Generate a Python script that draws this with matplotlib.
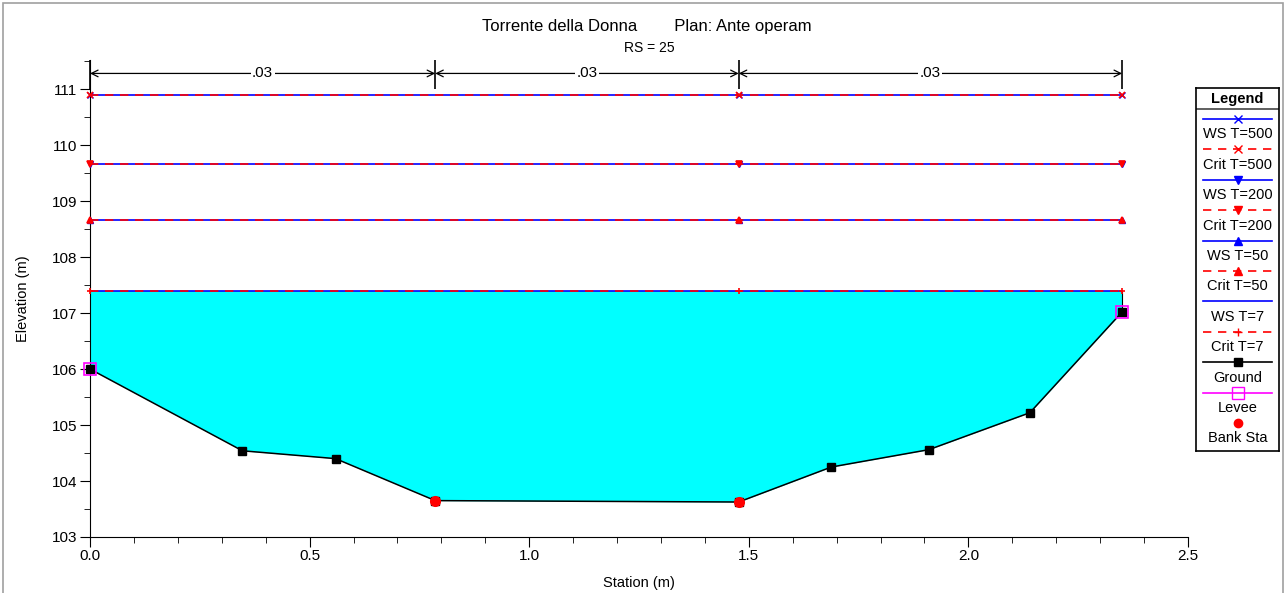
import numpy as np
import matplotlib
matplotlib.use('Agg')
import matplotlib.pyplot as plt
from matplotlib.patches import Rectangle
from matplotlib.ticker import MultipleLocator, FormatStrFormatter

plt.rcParams['font.family'] = ['Liberation Sans', 'DejaVu Sans']

# ground profile
ground_sta  = [0.0, 0.347, 0.559, 0.786, 1.477, 1.688, 1.910, 2.140, 2.350]
ground_elev = [106.0, 104.54, 104.40, 103.65, 103.625, 104.25, 104.56, 105.22, 107.02]
bank_sta    = [0.786, 1.477]
bank_elev   = [103.65, 103.625]
levee_sta   = [0.0, 2.350]
levee_elev  = [106.0, 107.02]

# water surfaces (WS and critical coincide)
ws_sta      = [0.0, 1.477, 2.350]
profiles    = ['T=500', 'T=200', 'T=50', 'T=7']
ws_elev     = [110.89, 109.66, 108.66, 107.40]
crit_elev   = [110.89, 109.66, 108.66, 107.40]
ws_markers   = ['x', 'v', '^', '']
crit_markers = ['x', 'v', '^', '+']

# manning n zones
n_bounds    = [0.0, 0.786, 1.477, 2.350]
n_values    = ['.03', '.03', '.03']

fig = plt.figure(figsize=(12.86, 5.93), dpi=100)
ax  = fig.add_axes([90 / 1286, 56 / 593, 1098 / 1286, 477 / 593])

ax.fill_between(ground_sta, ground_elev, ws_elev[-1], color='#00ffff', lw=0, zorder=1)
ax.vlines(ground_sta[-1], ground_elev[-1], ws_elev[-1], color='black', lw=0.8, zorder=2)

for ws, cr, wm, cm in zip(ws_elev, crit_elev, ws_markers, crit_markers):
    ax.plot(ws_sta, [ws] * len(ws_sta), color='#0000ff', lw=1.2,
            marker=wm if wm else None, ms=5, zorder=3, clip_on=False)
    ax.plot(ws_sta, [cr] * len(ws_sta), color='#ff0000', lw=1.2, ls=(0, (5, 4)),
            marker=cm, ms=5, mew=1.2, zorder=4, clip_on=False)

ax.plot(ground_sta, ground_elev, color='black', lw=1.1, marker='s', ms=5.5,
        zorder=5, clip_on=False)
ax.plot(levee_sta, levee_elev, ls='none', marker='s', ms=9, mfc='none',
        mec='#ff00ff', mew=1.2, zorder=6, clip_on=False)
ax.plot(bank_sta, bank_elev, ls='none', marker='o', ms=8, color='#ff0000',
        mec='none', zorder=7)

# n-value dimension arrows
y_arr = 111.28
for x0, x1, nv in zip(n_bounds[:-1], n_bounds[1:], n_values):
    ax.annotate('', xy=(x1, y_arr), xytext=(x0, y_arr),
                arrowprops=dict(arrowstyle='<->', color='black', lw=0.9,
                                shrinkA=0, shrinkB=0, mutation_scale=12))
    ax.text((x0 + x1) / 2, y_arr, nv, ha='center', va='center', fontsize=11,
            bbox=dict(facecolor='white', edgecolor='none', pad=1))
ax.vlines(n_bounds, 111.0, 111.52, color='black', lw=1.2, clip_on=False)

ax.set_xlim(0, 2.5)
ax.set_ylim(103, 111.52)
ax.xaxis.set_major_locator(MultipleLocator(0.5))
ax.xaxis.set_minor_locator(MultipleLocator(0.1))
ax.xaxis.set_major_formatter(FormatStrFormatter('%.1f'))
ax.yaxis.set_major_locator(MultipleLocator(1))
ax.yaxis.set_minor_locator(MultipleLocator(0.5))
ax.tick_params(which='major', direction='out', length=7, labelsize=11, pad=2)
ax.tick_params(which='minor', direction='out', length=4)
for s in ['top', 'right']:
    ax.spines[s].set_visible(False)
ax.set_xlabel('Station (m)', fontsize=10.5, labelpad=9)
ax.set_ylabel('Elevation (m)', fontsize=10.5, labelpad=16)

fig.text(647 / 1286, 1 - 27 / 593, 'Torrente della Donna        Plan: Ante operam',
         ha='center', va='center', fontsize=12)
fig.text(649 / 1286, 1 - 48 / 593, 'RS = 25', ha='center', va='center', fontsize=10)

# outer frame
fig.patches.append(Rectangle((3 / 1286, -0.1), 1280 / 1286, 1.1 - 3 / 593,
                             transform=fig.transFigure, fill=False,
                             edgecolor='#a0a0a0', lw=1.2))

# legend drawn by hand (entries stacked: sample line above label)
lax = fig.add_axes([1196 / 1286, 142 / 593, 83 / 1286, 363 / 593])
lax.set_xlim(0, 83)
lax.set_ylim(363, 0)
lax.set_xticks([])
lax.set_yticks([])
for s in lax.spines.values():
    s.set_linewidth(1.2)
lax.text(41.5, 11, 'Legend', ha='center', va='center', fontsize=10.5, fontweight='bold')
lax.axhline(21, color='#444444', lw=1.2)

leg_labels, leg_styles = [], []
for p, wm, cm in zip(profiles, ws_markers, crit_markers):
    leg_labels += ['WS ' + p, 'Crit ' + p]
    leg_styles += [dict(color='#0000ff', ls='-', marker=wm if wm else None),
                   dict(color='#ff0000', ls=(0, (5, 4)), marker=cm)]
leg_labels += ['Ground', 'Levee', 'Bank Sta']
leg_styles += [dict(color='black', ls='-', marker='s'),
               dict(color='#ff00ff', ls='-', marker='s', mfc='none', ms=8),
               dict(color='#ff0000', ls='none', marker='o')]

for i, (lab, st) in enumerate(zip(leg_labels, leg_styles)):
    yl = 31 + 30.4 * i
    kw = dict(lw=1.2, ms=6)
    kw.update(st)
    lax.plot([7, 41.5, 76], [yl] * 3, markevery=[1], **kw)
    lax.text(41.5, yl + 15.5, lab, ha='center', va='center', fontsize=10.5)

plt.savefig('out.png', dpi=100)
plt.close()
